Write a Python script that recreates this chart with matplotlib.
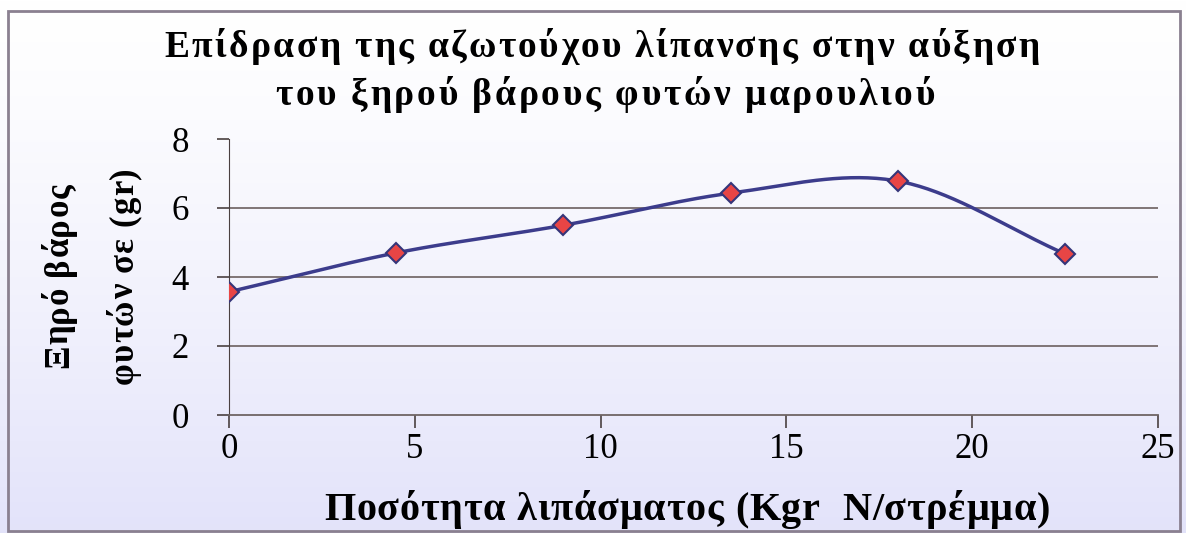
import numpy as np
import matplotlib.pyplot as plt
from matplotlib.patches import Rectangle
from matplotlib.font_manager import FontProperties

# data
dose = [0, 4.5, 9, 13.5, 18, 22.5]
weight = [3.57, 4.7, 5.5, 6.43, 6.78, 4.67]
xticks = [0, 5, 10, 15, 20, 25]
yticks = [0, 2, 4, 6, 8]

title1 = "Επίδραση της αζωτούχου λίπανσης στην αύξηση"
title2 = "του ξηρού βάρους φυτών μαρουλιού"
ylabel1 = "Ξηρό βάρος"
ylabel2 = "φυτών σε (gr)"
xlabel = "Ποσότητα λιπάσματος (Kgr  N/στρέμμα)"

W, H = 1186, 533
FAMILY = ['Liberation Serif', 'DejaVu Serif']


def smooth(x, y, n=40):
    """
    Catmull-Rom curve through the points, like a spreadsheet smoothed line
    """
    x = np.asarray(x, float)
    y = np.asarray(y, float)
    px = np.concatenate([[2*x[0]-x[1]], x, [2*x[-1]-x[-2]]])
    py = np.concatenate([[2*y[0]-y[1]], y, [2*y[-1]-y[-2]]])
    xs, ys = [], []
    t = np.linspace(0, 1, n)
    for i in range(1, len(px)-2):
        for p, out in ((px, xs), (py, ys)):
            p0, p1, p2, p3 = p[i-1], p[i], p[i+1], p[i+2]
            out.extend(0.5*((2*p1) + (-p0+p2)*t + (2*p0-5*p1+4*p2-p3)*t**2
                            + (-p0+3*p1-3*p2+p3)*t**3))
    return np.array(xs), np.array(ys)


def tracked(fig, s, centre, base, width, size, vertical=False):
    """
    Write s letter by letter so that it fills width pixels (letter spaced).
    centre/base are pixel coords from the top-left corner.
    """
    r = fig.canvas.get_renderer()
    prop = FontProperties(family=FAMILY, weight='bold', size=size)
    w = lambda t: r.get_text_width_height_descent(t, prop, ismath=False)[0]
    ws = [w('l' + c + 'l') - w('ll') for c in s]
    track = (width - sum(ws)) / (len(s) - 1)
    pos = 0
    for c, cw in zip(s, ws):
        if vertical:
            # runs upward from the bottom end
            y = centre + width / 2 - pos
            fig.text(base / W, 1 - y / H, c, fontproperties=prop, rotation=90,
                     rotation_mode='anchor', ha='left', va='baseline')
        else:
            x = centre - width / 2 + pos
            fig.text(x / W, 1 - base / H, c, fontproperties=prop,
                     ha='left', va='baseline')
        pos += cw + track


plt.rcParams['font.family'] = FAMILY
fig = plt.figure(figsize=(W/100, H/100), dpi=100)

# background: white fading to pale lavender downwards, with a grey frame
bg = fig.add_axes([0, 0, 1, 1], zorder=-10)
grad = np.linspace(0, 1, 256).reshape(-1, 1, 1)
top = np.array([1.0, 1.0, 1.0])
bot = np.array([0.89, 0.89, 0.98])
img = top + (bot - top) * grad ** 1.3
bg.imshow(img, aspect='auto', extent=[0, 1, 0, 1], origin='upper')
bg.add_patch(Rectangle((8/W, 2/H), 1172/W, 520/H, fill=False,
                       edgecolor='#8a8090', lw=2))
bg.set_xlim(0, 1)
bg.set_ylim(0, 1)
bg.axis('off')

ax = fig.add_axes([229/W, (H-415)/H, (1158-229)/W, (415-139)/H])
ax.patch.set_alpha(0)

sx, sy = smooth(dose, weight)
ax.plot(sx, sy, color='#3c3c8c', lw=2.5, zorder=3)
ax.plot(dose, weight, ls='none', marker='D', ms=10, mfc='#e84545',
        mec='#35357a', mew=1.5, zorder=4)

ax.set_xlim(0, 25)
ax.set_ylim(0, 8)
ax.set_xticks(xticks)
ax.set_yticks(yticks)
for v in yticks[1:-1]:
    ax.axhline(v, color='#766b6b', lw=1.3, zorder=1)

for s in ['top', 'right']:
    ax.spines[s].set_visible(False)
ax.spines['left'].set_color('#4a4040')
ax.spines['bottom'].set_color('#6e6464')
ax.spines['bottom'].set_linewidth(1.3)
ax.tick_params(axis='both', direction='out', length=9, width=1.2,
               color='#4a4040', labelsize=25)
ax.tick_params(axis='x', pad=4)
ax.tick_params(axis='y', pad=20)

tracked(fig, title1, 602, 57, 875, 27)
tracked(fig, title2, 605, 105, 659, 27)
tracked(fig, xlabel, 687, 520, 726, 29)
tracked(fig, ylabel1, 276, 68, 185, 25, vertical=True)
tracked(fig, ylabel2, 276, 133, 217, 25, vertical=True)

fig.savefig('out.png', dpi=100)
